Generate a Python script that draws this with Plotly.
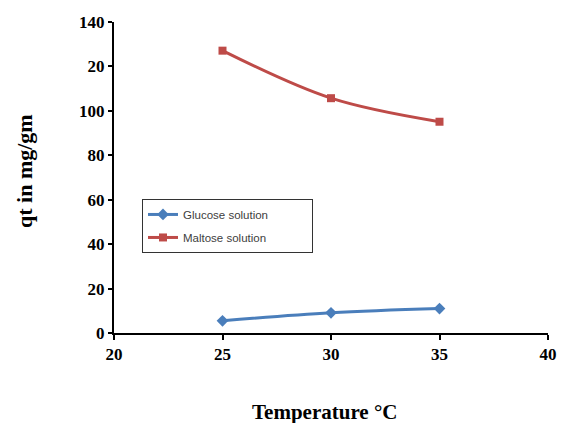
import plotly.graph_objects as go

temperature = [25, 30, 35]
glucose = [5.5, 9.1, 11.0]
maltose = [127.1, 105.7, 95.1]
series_names = ["Glucose solution", "Maltose solution"]
y_tick_vals = [0, 20, 40, 60, 80, 100, 120, 140]
y_tick_text = ["0", "20", "40", "60", "80", "100", "20", "140"]
x_tick_vals = [20, 25, 30, 35, 40]
x_tick_text = ["20", "25", "30", "35", "40"]

pad = "\u00a0" * 12

fig = go.Figure()
fig.add_trace(go.Scatter(
    x=temperature, y=glucose, name=series_names[0] + pad, mode="lines+markers",
    line=dict(color="#4A7EBB", width=3, shape="spline"),
    marker=dict(symbol="diamond", size=9, color="#4A7EBB"),
    legendgroup="g1"))
fig.add_trace(go.Scatter(
    x=temperature, y=maltose, name=series_names[1] + pad, mode="lines+markers",
    line=dict(color="#BE4B48", width=3, shape="spline"),
    marker=dict(symbol="square", size=8, color="#BE4B48"),
    legendgroup="g2"))

tickfont = dict(family="Liberation Serif", size=17, color="black")
fig.update_layout(
    width=561, height=423,
    margin=dict(l=114, r=13, t=22, b=90),
    plot_bgcolor="white", paper_bgcolor="white",
    showlegend=True,
    legend=dict(
        x=0.0645, y=0.431, xanchor="left", yanchor="top",
        bgcolor="white", bordercolor="#333333", borderwidth=1,
        font=dict(family="Liberation Sans", size=11.5, color="#404040"),
        tracegroupgap=4, traceorder="grouped", itemwidth=30,
    ),
    xaxis=dict(
        range=[20, 40], tickvals=x_tick_vals,
        ticktext=["<b>%s</b>" % t for t in x_tick_text],
        showgrid=False, zeroline=False, automargin=False,
        showline=True, linecolor="black", linewidth=2,
        ticks="outside", ticklen=5, tickwidth=2, tickcolor="black",
        tickfont=tickfont,
    ),
    yaxis=dict(
        range=[0, 140], tickvals=y_tick_vals,
        ticktext=["<b>%s</b>" % t for t in y_tick_text],
        showgrid=False, zeroline=False, automargin=False,
        showline=True, linecolor="black", linewidth=2,
        ticks="outside", ticklen=4, tickwidth=2, tickcolor="black",
        tickfont=tickfont,
    ),
    annotations=[
        dict(text="<b>Temperature °C</b>", x=0.485, y=-0.254, xref="paper", yref="paper",
             xanchor="center", yanchor="middle", showarrow=False,
             font=dict(family="Liberation Serif", size=21, color="black")),
        dict(text="<b>qt in mg/gm</b>", x=-0.205, y=0.521, xref="paper", yref="paper",
             xanchor="center", yanchor="middle", showarrow=False, textangle=-90,
             font=dict(family="Liberation Serif", size=22, color="black")),
    ],
)
fig.write_html(
    "out.html",
    config={"displayModeBar": False},
    post_script="document.body.style.margin='0';document.body.style.overflow='hidden';",
)
